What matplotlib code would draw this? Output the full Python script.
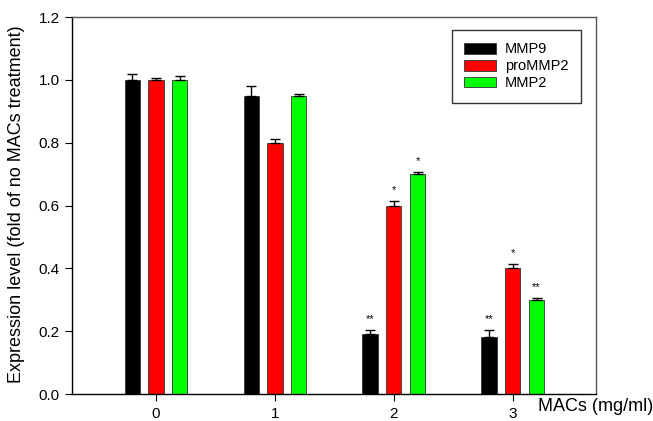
import numpy as np
import matplotlib
matplotlib.use("Agg")
import matplotlib.pyplot as plt

plt.rcParams['font.family'] = ['Liberation Sans', 'DejaVu Sans']

doses = [0, 1, 2, 3]
series = ["MMP9", "proMMP2", "MMP2"]
colors = ["#000000", "#ff0000", "#00ff00"]
mmp9 = [1.00, 0.95, 0.19, 0.18]
mmp9_err = [0.020, 0.030, 0.015, 0.025]
prommp2 = [1.00, 0.80, 0.60, 0.40]
prommp2_err = [0.007, 0.012, 0.015, 0.013]
mmp2 = [1.00, 0.95, 0.70, 0.30]
mmp2_err = [0.012, 0.006, 0.008, 0.005]
marks_mmp9 = ["", "", "**", "**"]
marks_prommp2 = ["", "", "*", "*"]
marks_mmp2 = ["", "", "*", "**"]

values = [mmp9, prommp2, mmp2]
errors = [mmp9_err, prommp2_err, mmp2_err]
marks = [marks_mmp9, marks_prommp2, marks_mmp2]

fig = plt.figure(figsize=(6.53, 4.21), dpi=100)
ax = fig.add_axes([0.1103, 0.0641, 0.8024, 0.8955])

x = np.array(doses, dtype=float)
offsets = [-0.2, 0.0, 0.2]
width = 0.128
for name, col, vals, errs, mk, off in zip(series, colors, values, errors, marks, offsets):
    xs = x + off
    ax.bar(xs, vals, width=width, color=col, edgecolor="#333333", linewidth=0.6, label=name, zorder=2)
    ax.errorbar(xs, vals, yerr=[np.zeros(len(errs)), errs], fmt="none", ecolor="black",
                elinewidth=1.0, capsize=3.5, capthick=1.0, zorder=3)
    for xi, v, e, m in zip(xs, vals, errs, mk):
        if m:
            ax.text(xi, v + e + 0.035, m, ha="center", va="center", fontsize=8)

ax.set_xlim(-0.706, 3.70)
ax.set_ylim(0, 1.2)
ax.set_xticks(doses)
ax.set_xticklabels([str(d) for d in doses], fontsize=11)
yt = np.arange(0, 1.21, 0.2)
ax.set_yticks(yt)
ax.set_yticklabels([f"{v:.1f}" for v in yt], fontsize=11)
ax.tick_params(axis="x", direction="out", length=5, width=0.8, pad=4)
ax.tick_params(axis="y", direction="out", length=5, width=0.8, pad=4)
for sp in ["left", "bottom"]:
    ax.spines[sp].set_color("black")
    ax.spines[sp].set_linewidth(1.0)
for sp in ["top", "right"]:
    ax.spines[sp].set_color("#555555")
    ax.spines[sp].set_linewidth(1.0)

fig.text(17 / 653, 0.5154, "Expression level (fold of no MACs treatment)",
         fontsize=13, rotation=90, ha="center", va="center")
fig.text(538 / 653, 0.034, "MACs (mg/ml)", fontsize=13, ha="left", va="center")

leg = ax.legend(loc="upper right", bbox_to_anchor=(0.9714, 0.9655), borderaxespad=0,
                fontsize=10.5, fancybox=False, edgecolor="#333333", framealpha=1,
                handlelength=2.2, handleheight=0.75, borderpad=0.85, labelspacing=0.2,
                handletextpad=0.6)
leg.get_frame().set_linewidth(1.0)

fig.savefig("out.png", dpi=100)
